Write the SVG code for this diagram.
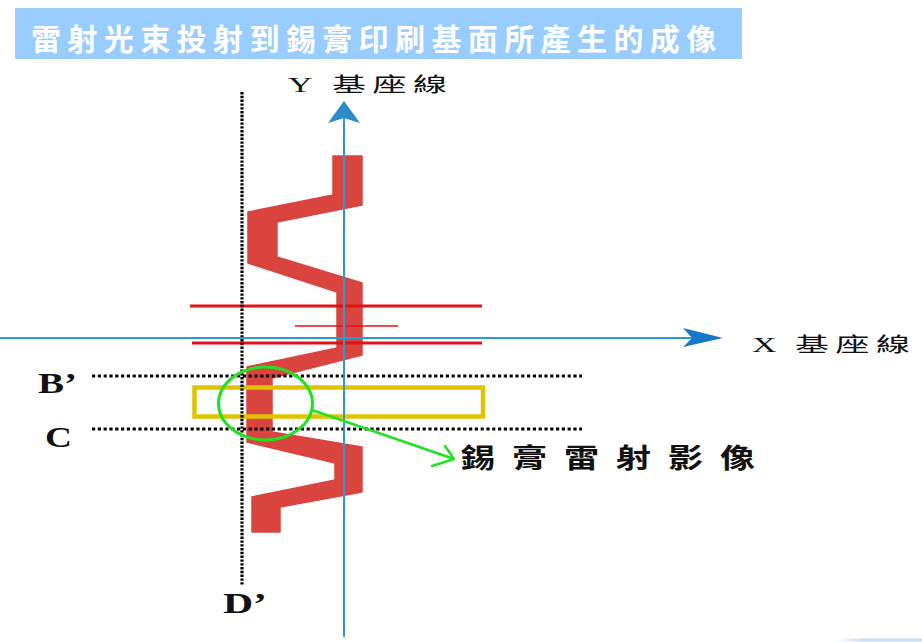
<svg xmlns="http://www.w3.org/2000/svg" width="922" height="642" viewBox="0 0 922 642">
<defs>
<style>
.cjk{font-family:"Noto Sans CJK TC","Noto Sans CJK SC",sans-serif}
.lbl{font-family:"Liberation Serif","Noto Sans CJK TC",serif;font-size:20px;fill:#111}
.ltr{font-family:"Liberation Serif",serif;font-weight:bold;font-size:30px;fill:#111}
.dotv{stroke:#000;stroke-width:3.2;stroke-dasharray:2.4 1.4;fill:none}
.doth{stroke:#000;stroke-width:3.2;stroke-dasharray:3.2 2.6;fill:none}
.axis{stroke:#2a9ad4;fill:none}
.redl{stroke:#e01414;fill:none}
</style>
<linearGradient id="fade" x1="0" y1="0" x2="1" y2="0">
<stop offset="0" stop-color="#c8dcf4" stop-opacity="0"/>
<stop offset="0.3" stop-color="#c8dcf4"/>
<stop offset="1" stop-color="#c8dcf4"/>
</linearGradient>
</defs>
<rect width="922" height="642" fill="#fff"/>

<g id="title">
<rect x="15" y="8" width="727" height="51" fill="#99ccff"/>
<text class="cjk" x="31" y="50" font-size="30" font-weight="bold" fill="#fff" letter-spacing="6.4">雷射光束投射到錫膏印刷基面所產生的成像</text>
</g>

<g id="laser-image">
<polygon fill="#d9443f" stroke="#d9443f" stroke-width="1.5" stroke-linejoin="round" points="333,156 362,156 362,205 277,222 277,257 362,283 362,355 272,378 272,432 362,447 362,492 280,507 280,532 252,532 252,497 335,480 335,463 247,442 247,367 337,348 337,292 248,263 248,212 333,195"/>
</g>

<g id="red-lines">
<line class="redl" x1="190" y1="306" x2="482" y2="306" stroke-width="3"/>
<line class="redl" x1="192" y1="343" x2="482" y2="343" stroke-width="3"/>
<line class="redl" x1="295" y1="326" x2="398" y2="326" stroke-width="1.5"/>
</g>

<g id="paste-rect">
<rect x="194.5" y="387.5" width="288.5" height="29" fill="none" stroke="#e0c400" stroke-width="4.5"/>
</g>

<g id="connectors">
<line class="dotv" x1="242" y1="92" x2="242" y2="585"/>
<line class="doth" x1="92" y1="376" x2="582" y2="376"/>
<line class="doth" x1="92" y1="429" x2="582" y2="429"/>
<line class="axis" x1="344" y1="112" x2="344" y2="637" stroke-width="2"/>
<polygon fill="#2a8cc8" points="344,101 360,123 344,118 328,123"/>
<line class="axis" x1="0" y1="338" x2="695" y2="338" stroke-width="1.8"/>
<polygon fill="#1878c8" points="723,338 683,328 692,338 683,347"/>
<path d="M312,410 L454,459 M445,446 L454,459 L432,466" fill="none" stroke="#22e022" stroke-width="2.5" stroke-linecap="round" stroke-linejoin="round"/>
</g>

<g id="circle">
<ellipse cx="265.5" cy="403.5" rx="47" ry="36.5" fill="none" stroke="#22e022" stroke-width="3"/>
</g>

<g id="y-label">
<g transform="translate(288,92) scale(1.7,1)">
<text class="lbl"><tspan x="0">Y</tspan><tspan x="25.9" letter-spacing="3.8">基座線</tspan></text>
</g>
</g>

<g id="x-label">
<g transform="translate(752,352) scale(1.7,1)">
<text class="lbl"><tspan x="0">X</tspan><tspan x="25.3" letter-spacing="3.8">基座線</tspan></text>
</g>
</g>

<g id="label-b">
<text class="ltr" x="38" y="393" textLength="39" lengthAdjust="spacingAndGlyphs">B’</text>
</g>
<g id="label-c">
<text class="ltr" x="45" y="447" textLength="27" lengthAdjust="spacingAndGlyphs">C</text>
</g>
<g id="label-d">
<text class="ltr" x="223" y="613" textLength="44" lengthAdjust="spacingAndGlyphs">D’</text>
</g>

<g id="paste-label">
<g transform="translate(460,468) scale(1.3,1)">
<text class="cjk" x="0" y="0" font-size="27" font-weight="bold" fill="#111" letter-spacing="13">錫膏雷射影像</text>
</g>
</g>

<rect x="837" y="638.5" width="85" height="3" fill="url(#fade)"/>
</svg>
